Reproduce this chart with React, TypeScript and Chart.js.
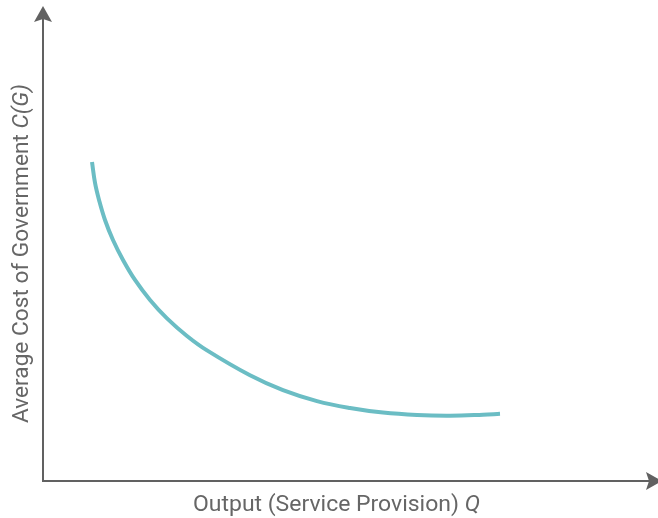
import React, { useEffect, useRef } from "react";
import { Chart, registerables } from "chart.js";

Chart.register(...registerables);

// Curve (x: output Q, y: average cost C(G)), arbitrary units 0..100
const outputQ = [7.97, 8.46, 9.11, 10.08, 11.38, 13.01, 14.96, 17.4, 20.16, 23.41, 26.67, 33.66, 39.02, 44.55, 49.92, 55.28, 60.81, 66.18, 71.54, 74.31];
const avgCost = [67.16, 62.74, 59.16, 54.95, 50.74, 46.53, 42.32, 38.11, 34.23, 30.53, 27.49, 22.25, 19.12, 16.82, 15.37, 14.4, 13.89, 13.75, 13.96, 14.15];

const xTitleParts = [
  { text: "Output (Service Provision) ", italic: false },
  { text: "Q", italic: true },
];
const yTitleParts = [
  { text: "Average Cost of Government ", italic: false },
  { text: "C(G)", italic: true },
];

const AXIS_COLOR = "#616161";
const TEXT_COLOR = "#666666";
const CURVE_COLOR = "#6bbdc4";
const FONT_FAMILY = "Roboto, 'Liberation Sans', sans-serif";
const FONT_SIZE = 21.5;

// draws mixed-style text starting at (0,0) baseline, squeezed/stretched to targetWidth
function drawParts(ctx: CanvasRenderingContext2D, parts: { text: string; italic: boolean }[], targetWidth: number) {
  const fonts = parts.map((p) => `${p.italic ? "italic " : ""}${FONT_SIZE}px ${FONT_FAMILY}`);
  let total = 0;
  const widths = parts.map((p, i) => {
    ctx.font = fonts[i];
    const w = ctx.measureText(p.text).width;
    total += w;
    return w;
  });
  const s = targetWidth / total;
  ctx.save();
  ctx.scale(s, 1);
  let x = 0;
  ctx.fillStyle = TEXT_COLOR;
  ctx.textBaseline = "alphabetic";
  ctx.textAlign = "left";
  parts.forEach((p, i) => {
    ctx.font = fonts[i];
    ctx.fillText(p.text, x, 0);
    x += widths[i];
  });
  ctx.restore();
}

const axesPlugin = {
  id: "arrowAxes",
  beforeDatasetsDraw(chart: any) {
    const { ctx, chartArea } = chart;
    const { left, top, right, bottom } = chartArea;
    ctx.save();
    ctx.strokeStyle = AXIS_COLOR;
    ctx.fillStyle = AXIS_COLOR;
    ctx.lineWidth = 2;
    ctx.beginPath();
    ctx.moveTo(left, top + 10);
    ctx.lineTo(left, bottom);
    ctx.lineTo(right - 8, bottom);
    ctx.stroke();
    // vertical arrowhead
    ctx.beginPath();
    ctx.moveTo(left, top);
    ctx.lineTo(left + 9, top + 16);
    ctx.lineTo(left, top + 13);
    ctx.lineTo(left - 9, top + 16);
    ctx.closePath();
    ctx.fill();
    // horizontal arrowhead (tip slightly beyond the canvas edge)
    const tip = right + 4;
    ctx.beginPath();
    ctx.moveTo(tip, bottom);
    ctx.lineTo(tip - 16, bottom - 9);
    ctx.lineTo(tip - 13, bottom);
    ctx.lineTo(tip - 16, bottom + 9);
    ctx.closePath();
    ctx.fill();

    ctx.save();
    ctx.translate(193, 511);
    drawParts(ctx, xTitleParts, 287);
    ctx.restore();

    ctx.save();
    ctx.translate(27.5, 423);
    ctx.rotate(-Math.PI / 2);
    drawParts(ctx, yTitleParts, 339);
    ctx.restore();
    ctx.restore();
  },
};

export default function App() {
  const ref = useRef<HTMLCanvasElement | null>(null);
  useEffect(() => {
    if (!ref.current) return;
    const chart = new Chart(ref.current, {
      type: "line",
      data: {
        datasets: [
          {
            data: outputQ.map((x, i) => ({ x, y: avgCost[i] })),
            borderColor: CURVE_COLOR,
            borderWidth: 4,
            pointRadius: 0,
            tension: 0.4,
            fill: false,
          },
        ],
      },
      options: {
        animation: false,
        responsive: true,
        maintainAspectRatio: false,
        layout: { padding: { left: 43, top: 6, right: 0, bottom: 37 } },
        plugins: { legend: { display: false }, tooltip: { enabled: false } },
        scales: {
          x: { type: "linear", min: 0, max: 100, display: false },
          y: { type: "linear", min: 0, max: 100, display: false },
        },
      },
      plugins: [axesPlugin],
    });
    return () => chart.destroy();
  }, []);
  return (
    <div style={{ position: "fixed", left: 0, top: 0, width: 658, height: 518, background: "#fff" }}>
      <canvas ref={ref} />
    </div>
  );
}
